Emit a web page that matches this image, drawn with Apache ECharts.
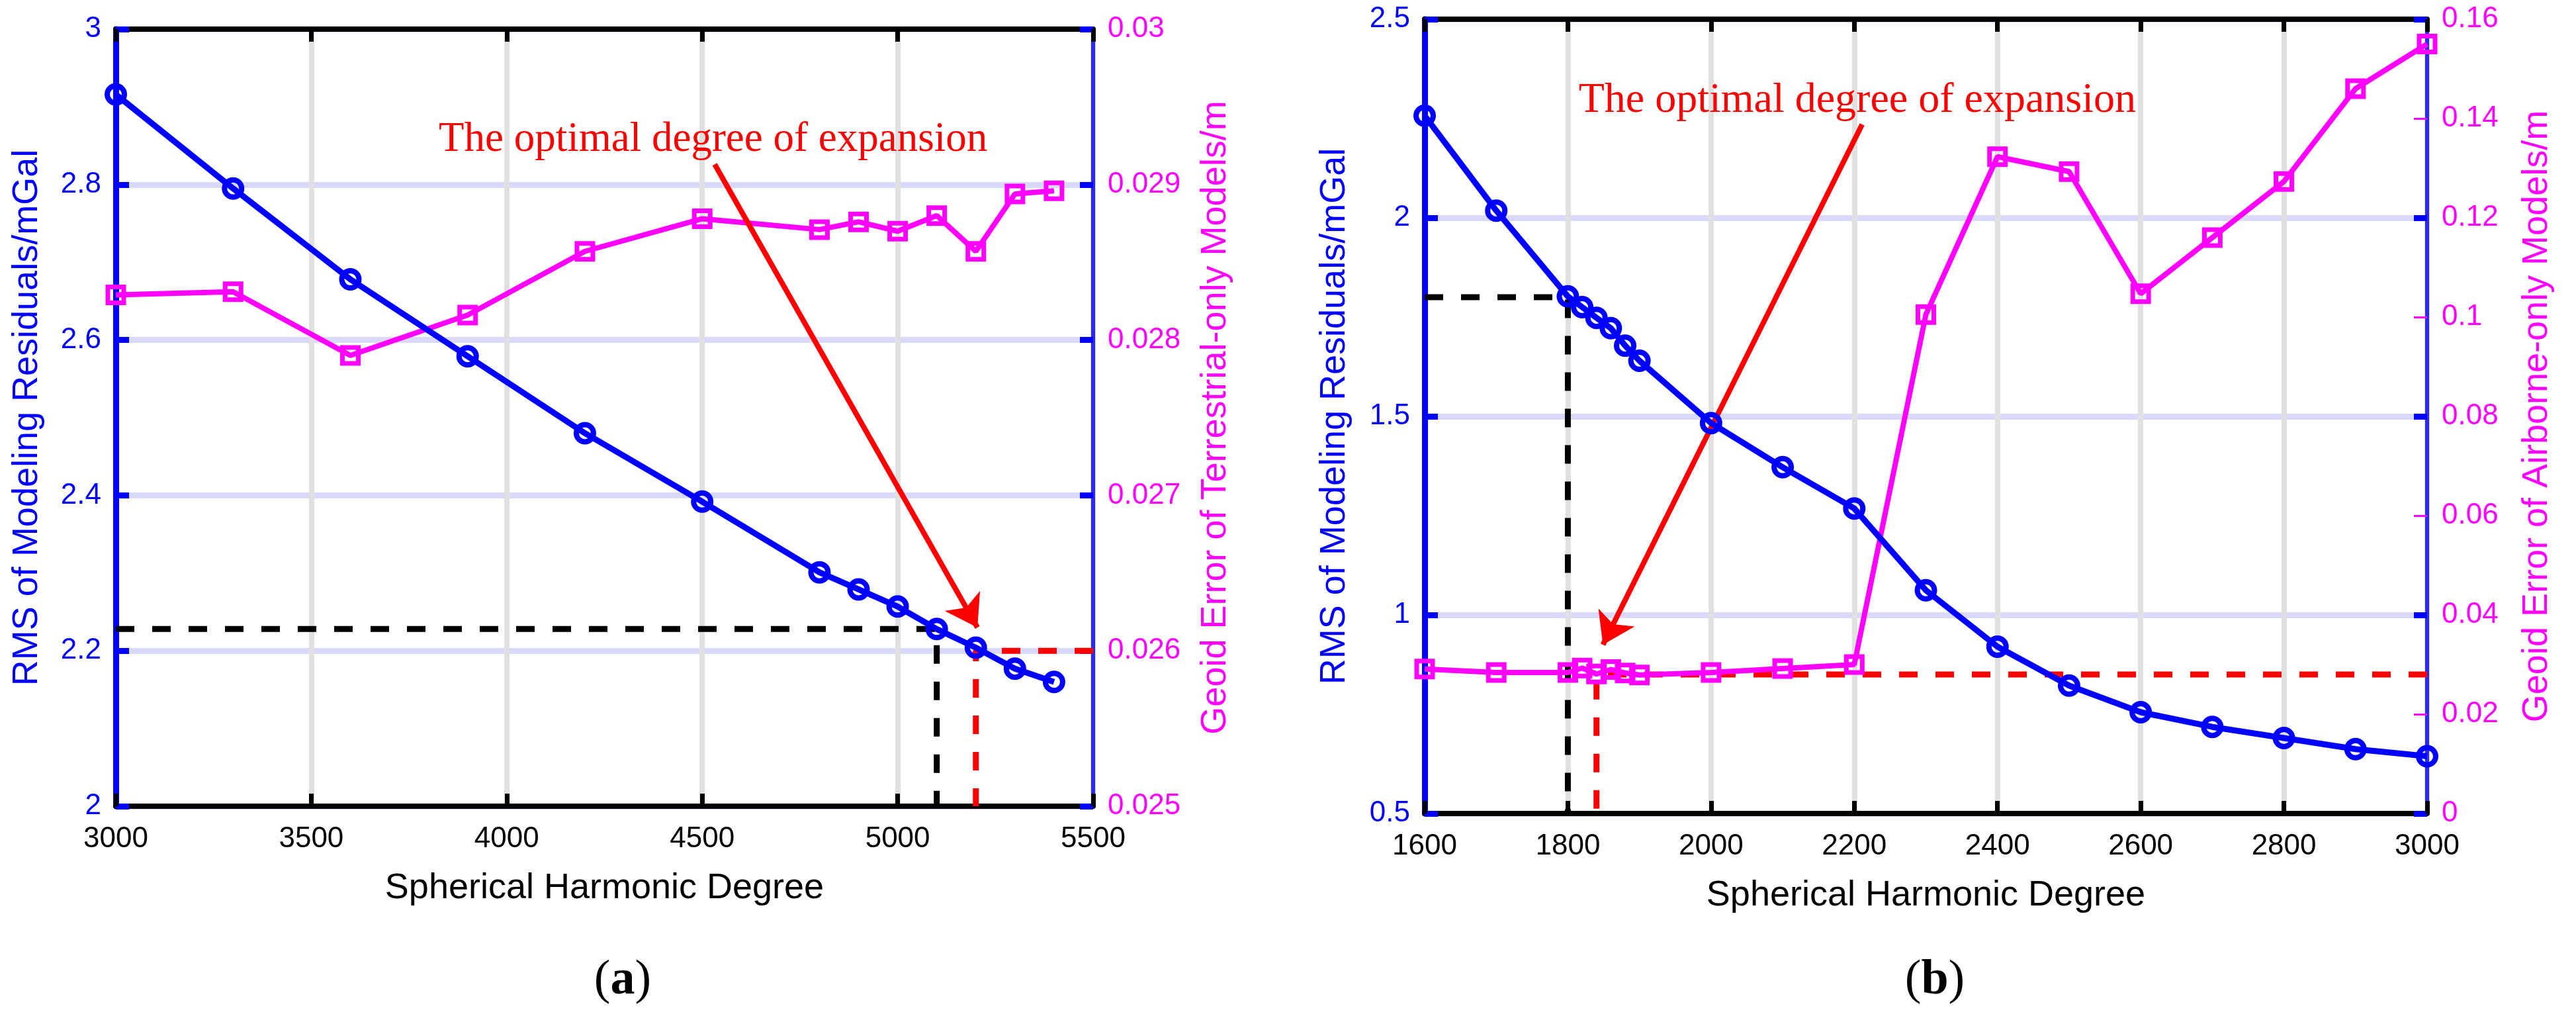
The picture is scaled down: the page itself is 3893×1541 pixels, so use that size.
<!DOCTYPE html>
<html>
<head>
<meta charset="utf-8">
<title>Optimal degree of expansion</title>
<script src="https://cdn.jsdelivr.net/npm/echarts/dist/echarts.min.js"></script>
<style>
  html, body { margin: 0; padding: 0; background: #fff; }
  #chart { width: 3893px; height: 1541px; }
</style>
</head>
<body>
<div id="chart"></div>
<script>
// ---- panel (a): terrestrial-only models ----
const degA = [3000, 3300, 3600, 3900, 4200, 4500, 4800, 4900, 5000, 5100, 5200, 5300, 5400];
const rmsA = [2.916, 2.795, 2.678, 2.579, 2.480, 2.392, 2.301, 2.279, 2.257, 2.228, 2.204, 2.177, 2.160];
const geoidA = [0.02829, 0.02831, 0.02790, 0.02816, 0.02857, 0.02878, 0.02871, 0.02876, 0.02870, 0.02880, 0.02857, 0.02894, 0.02896];
const blackA = [[3000, 2.228], [5100, 2.228], [5100, 2]];
const redA = [[5500, 0.026], [5200, 0.026], [5200, 0.025]];
const arrowA = [[4532, 2.826], [5204, 2.23]];
const noteA = [3826, 2.857];

// ---- panel (b): airborne-only models ----
const degB = [1600, 1700, 1800, 1820, 1840, 1860, 1880, 1900, 2000, 2100, 2200, 2300, 2400, 2500, 2600, 2700, 2800, 2900, 3000];
const rmsB = [2.257, 2.018, 1.802, 1.775, 1.748, 1.722, 1.678, 1.640, 1.483, 1.372, 1.268, 1.062, 0.920, 0.822, 0.755, 0.718, 0.690, 0.662, 0.644];
const geoidB = [0.0291, 0.0284, 0.0284, 0.0293, 0.0281, 0.0290, 0.0283, 0.0279, 0.0284, 0.0292, 0.0300, 0.1005, 0.1323, 0.1293, 0.1047, 0.1160, 0.1273, 0.1460, 0.1550];
const blackB = [[1600, 1.8], [1800, 1.8], [1800, 0.5]];
const redB = [[3000, 0.028], [1840, 0.028], [1840, 0]];
const arrowB = [[2211, 2.235], [1849, 0.925]];
const noteB = [1815, 2.295];

const NOTE = 'The optimal degree of expansion';
const SANS = 'Liberation Sans, Arial, sans-serif';
const SERIF = 'Liberation Serif, Times New Roman, serif';
const BLUE = '#0000ff';
const MAGENTA = '#ff00ff';
const RED = '#ff0000';

const zip = (xs, ys) => xs.map((x, i) => [x, ys[i]]);

function xAxisPair(grid, min, max, step) {
  const base = {
    type: 'value', gridIndex: grid, min: min, max: max, interval: step,
    axisLine: { show: true, onZero: false, lineStyle: { color: '#000', width: 8 } },
    axisTick: { show: true, inside: true, length: 19, lineStyle: { color: '#000', width: 7 } },
  };
  return [
    Object.assign({}, base, {
      position: 'bottom',
      axisLabel: {
        show: true, color: '#000', fontSize: 44, fontFamily: SANS, margin: 28,
        formatter: (v) => String(v),
      },
      splitLine: { show: true, lineStyle: { color: '#e0e0e0', width: 8 } },
      name: 'Spherical Harmonic Degree', nameLocation: 'middle', nameGap: 97, nameMoveOverlap: false,
      nameTextStyle: { color: '#000', fontSize: 54, fontFamily: SANS },
    }),
    Object.assign({}, base, {
      position: 'top',
      axisLabel: { show: false },
      splitLine: { show: false },
    }),
  ];
}

function leftAxis(grid, min, max, step, gap) {
  return {
    type: 'value', gridIndex: grid, position: 'left', min: min, max: max, interval: step,
    axisLine: { show: true, onZero: false, lineStyle: { color: BLUE, width: 9 } },
    axisTick: { show: true, inside: true, length: 20, lineStyle: { color: BLUE, width: 9 } },
    axisLabel: { color: BLUE, fontSize: 44, fontFamily: SANS, margin: 22 },
    splitLine: { show: true, lineStyle: { color: '#d9d9fb', width: 9 } },
    name: 'RMS of Modeling Residuals/mGal', nameLocation: 'middle', nameGap: gap, nameRotate: 90,
    nameMoveOverlap: false,
    nameTextStyle: { color: BLUE, fontSize: 54, fontFamily: SANS },
  };
}

function rightAxis(grid, min, max, step, gap, name, tickColor, tickWidth) {
  return {
    type: 'value', gridIndex: grid, position: 'right', min: min, max: max, interval: step,
    axisLine: { show: true, onZero: false, lineStyle: { color: '#2a2aff', width: 6 } },
    axisTick: { show: true, inside: true, length: 20, lineStyle: { color: tickColor, width: tickWidth } },
    axisLabel: { color: MAGENTA, fontSize: 44, fontFamily: SANS, margin: 22 },
    splitLine: { show: false },
    name: name, nameLocation: 'middle', nameGap: gap, nameRotate: 90, nameMoveOverlap: false,
    nameTextStyle: { color: MAGENTA, fontSize: 54, fontFamily: SANS },
  };
}

function rmsSeries(xi, yi, data, arrow, note, noteSize) {
  return {
    type: 'line', xAxisIndex: xi, yAxisIndex: yi, data: data, z: 5,
    symbol: 'circle', symbolSize: 26,
    lineStyle: { color: BLUE, width: 9 },
    itemStyle: { color: 'rgba(0,0,0,0)', borderColor: BLUE, borderWidth: 8 },
    markLine: {
      silent: true, animation: false,
      symbol: ['none', 'arrow'], symbolSize: 46,
      label: { show: false },
      lineStyle: { color: RED, width: 8, type: 'solid' },
      data: [[{ coord: arrow[0] }, { coord: arrow[1] }]],
    },
    markPoint: {
      silent: true, animation: false,
      symbol: 'circle', symbolSize: 0,
      data: [{ coord: note, value: 0 }],
      label: {
        show: true, position: 'right', distance: 0, formatter: NOTE,
        color: RED, fontSize: noteSize, fontFamily: SERIF,
      },
    },
  };
}

function geoidSeries(xi, yi, data) {
  return {
    type: 'line', xAxisIndex: xi, yAxisIndex: yi, data: data, z: 4,
    symbol: 'rect', symbolSize: 24,
    lineStyle: { color: MAGENTA, width: 8 },
    itemStyle: { color: 'rgba(0,0,0,0)', borderColor: MAGENTA, borderWidth: 7 },
  };
}

function dashSeries(xi, yi, data, color) {
  return {
    type: 'line', xAxisIndex: xi, yAxisIndex: yi, data: data, z: 2, silent: true,
    symbol: 'none',
    lineStyle: { color: color, width: 9, type: [28, 27] },
  };
}

const chart = echarts.init(document.getElementById('chart'));

const xa = xAxisPair(0, 3000, 5500, 500);
const xb = xAxisPair(1, 1600, 3000, 200);

// mirrored left-axis ticks on the right side of (b)
const mirrorB = {
  type: 'value', gridIndex: 1, position: 'right', min: 0.5, max: 2.5, interval: 0.5,
  axisLine: { show: false },
  axisTick: { show: true, inside: true, length: 20, lineStyle: { color: BLUE, width: 9 } },
  axisLabel: { show: false },
  splitLine: { show: false },
};

chart.setOption({
  animation: false,
  backgroundColor: '#fff',
  grid: [
    { left: 175, top: 44, width: 1477, height: 1174, outerBoundsMode: 'none' },
    { left: 2153, top: 29, width: 1515, height: 1200, outerBoundsMode: 'none' },
  ],
  xAxis: [xa[0], xa[1], xb[0], xb[1]],
  yAxis: [
    leftAxis(0, 2, 3, 0.2, 107),
    rightAxis(0, 0.025, 0.03, 0.001, 158, 'Geoid Error of Terrestrial-only Models/m', BLUE, 9),
    leftAxis(1, 0.5, 2.5, 0.5, 109),
    rightAxis(1, 0, 0.16, 0.02, 139, 'Geoid Error of Airborne-only Models/m', MAGENTA, 3),
    mirrorB,
  ],
  series: [
    dashSeries(0, 0, blackA, '#000'),
    dashSeries(0, 1, redA, RED),
    geoidSeries(0, 1, zip(degA, geoidA)),
    rmsSeries(0, 0, zip(degA, rmsA), arrowA, noteA, 63),
    dashSeries(2, 2, blackB, '#000'),
    dashSeries(2, 3, redB, RED),
    geoidSeries(2, 3, zip(degB, geoidB)),
    rmsSeries(2, 2, zip(degB, rmsB), arrowB, noteB, 64),
  ],
  graphic: [
    {
      type: 'text', x: 941, y: 1482,
      style: {
        text: '{p|(}{b|a}{p|)}', align: 'center', verticalAlign: 'middle',
        rich: {
          p: { fontFamily: SERIF, fontSize: 74, fill: '#000' },
          b: { fontFamily: SERIF, fontSize: 74, fontWeight: 'bold', fill: '#000' },
        },
      },
    },
    {
      type: 'text', x: 2924, y: 1482,
      style: {
        text: '{p|(}{b|b}{p|)}', align: 'center', verticalAlign: 'middle',
        rich: {
          p: { fontFamily: SERIF, fontSize: 74, fill: '#000' },
          b: { fontFamily: SERIF, fontSize: 74, fontWeight: 'bold', fill: '#000' },
        },
      },
    },
  ],
});
</script>
</body>
</html>
